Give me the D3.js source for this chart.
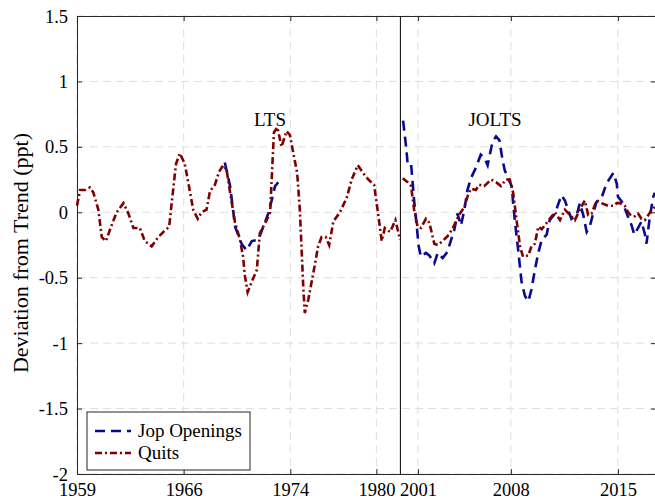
<!DOCTYPE html>
<html>
<head>
<meta charset="utf-8">
<script src="https://d3js.org/d3.v7.min.js"></script>
<style>
  body { margin: 0; background: #fff; }
  text { font-family: "Liberation Serif", "DejaVu Serif", serif; fill: #000; }
</style>
</head>
<body>
<div id="chart"></div>
<script>
// x is an observation index (quarters), y is deviation from trend in ppt
var ltsQuitsT = [0, 0.8, 2.1, 3.4, 4.3, 5.6, 6.5, 7.6, 8.7, 10.4, 12.2, 13.5, 14.8, 16.5, 17.8, 19.6, 21.3, 22.7, 24.2, 25.3, 26.0, 27.0, 28.3, 29.7, 30.5, 31.7, 32.7, 34.0, 34.9, 36.2, 37.3, 38.4, 39.3, 40.2, 41.5, 42.8, 43.6, 44.1, 44.8, 45.9, 47.2, 48.0, 48.7, 49.8, 50.7, 51.7, 52.6, 53.7, 55.0, 55.9, 57.0, 57.8, 58.5, 59.4, 59.8, 60.7, 62.0, 63.3, 64.2, 65.3, 66.2, 67.3, 69.0, 70.8, 72.1, 73.7, 75.1, 76.5, 78.0, 78.9, 80.0, 80.8, 82.2, 83.6, 84.8];
var ltsQuitsV = [0.05, 0.17, 0.17, 0.19, 0.15, 0.02, -0.19, -0.22, -0.13, 0.0, 0.07, -0.01, -0.12, -0.12, -0.22, -0.26, -0.19, -0.15, -0.11, 0.19, 0.37, 0.45, 0.37, 0.15, 0.02, -0.05, 0.0, 0.02, 0.16, 0.21, 0.31, 0.36, 0.32, 0.15, -0.08, -0.21, -0.34, -0.49, -0.61, -0.53, -0.44, -0.16, -0.12, -0.06, 0.0, 0.61, 0.65, 0.5, 0.62, 0.59, 0.42, 0.30, 0.02, -0.57, -0.77, -0.67, -0.47, -0.26, -0.19, -0.19, -0.25, -0.07, 0.0, 0.11, 0.25, 0.36, 0.30, 0.25, 0.21, 0.02, -0.22, -0.12, -0.15, -0.06, -0.21];

var ltsOpenT = [38.8, 40.2, 41.5, 43.2, 44.5, 45.9, 47.6, 48.9, 50.2, 51.1, 52.0, 53.7];
var ltsOpenV = [0.38, 0.2, -0.11, -0.24, -0.29, -0.22, -0.21, -0.11, -0.01, 0.09, 0.2, 0.26];

var joltsQuitsT = [85.5, 86.8, 87.7, 88.5, 89.4, 90.3, 91.6, 92.5, 93.8, 94.7, 96.0, 97.7, 99.0, 100.3, 101.7, 102.5, 103.4, 104.7, 105.6, 106.9, 108.7, 110.0, 111.3, 112.6, 113.6, 114.5, 115.4, 116.3, 117.1, 118.5, 119.3, 120.2, 121.1, 122.0, 122.8, 124.1, 125.5, 126.8, 128.1, 129.4, 130.7, 132.0, 133.3, 134.2, 135.1, 136.4, 137.7, 139.4, 140.8, 141.7, 142.5, 143.8, 144.7, 145.6, 146.5, 147.3, 148.2, 149.1, 150.0, 150.9, 151.7];
var joltsQuitsV = [0.26, 0.23, 0.2, 0.02, -0.11, -0.12, -0.05, -0.08, -0.24, -0.25, -0.22, -0.17, -0.10, -0.02, 0.04, 0.12, 0.18, 0.17, 0.21, 0.2, 0.25, 0.23, 0.2, 0.25, 0.25, 0.15, -0.06, -0.26, -0.34, -0.33, -0.26, -0.24, -0.11, -0.13, -0.10, -0.05, 0.0, -0.06, 0.02, -0.02, -0.06, 0.02, 0.09, -0.02, -0.01, 0.09, 0.07, 0.05, 0.05, 0.07, 0.07, 0.05, 0.0, -0.03, -0.03, -0.01, -0.05, -0.06, -0.02, 0.02, 0.04];

var joltsOpenT = [85.6, 86.4, 86.8, 87.7, 88.5, 89.2, 89.7, 90.3, 91.6, 92.5, 93.8, 94.7, 96.0, 97.3, 98.2, 99.0, 99.9, 100.8, 101.7, 102.5, 103.4, 104.7, 106.0, 106.9, 107.8, 109.1, 110.0, 110.9, 111.7, 112.3, 113.2, 114.1, 115.0, 115.9, 116.7, 117.6, 118.5, 119.3, 120.2, 121.1, 122.0, 123.3, 124.1, 125.5, 126.3, 127.2, 128.1, 128.9, 129.8, 131.2, 132.0, 132.9, 133.8, 134.6, 135.5, 136.4, 137.7, 139.0, 140.8, 141.7, 142.0, 143.3, 144.6, 145.6, 146.3, 147.3, 148.2, 149.1, 149.5, 150.4, 151.3, 151.7];
var joltsOpenV = [0.70, 0.5, 0.37, 0.37, 0.09, -0.11, -0.26, -0.34, -0.31, -0.33, -0.39, -0.31, -0.35, -0.30, -0.21, -0.14, -0.01, -0.10, 0.02, 0.17, 0.26, 0.34, 0.44, 0.42, 0.36, 0.54, 0.58, 0.55, 0.40, 0.32, 0.26, 0.2, -0.08, -0.31, -0.53, -0.64, -0.68, -0.59, -0.44, -0.31, -0.21, -0.17, -0.06, -0.01, 0.06, 0.13, 0.09, 0.02, -0.05, -0.02, 0.07, -0.02, -0.15, -0.11, -0.01, 0.08, 0.11, 0.22, 0.30, 0.22, 0.12, 0.07, -0.03, -0.10, -0.17, -0.12, -0.07, -0.17, -0.24, -0.03, 0.12, 0.15];

var xTickPos = [0, 28, 56, 78.6, 89.5, 113.9, 142];
var xTickLabels = ["1959", "1966", "1974", "1980", "2001", "2008", "2015"];
var yTicks = [-2, -1.5, -1, -0.5, 0, 0.5, 1, 1.5];
var breakPos = 84.9;

var margin = {top: 16, right: 0, bottom: 27, left: 77},
    width = 579,
    height = 458;

var svg = d3.select("#chart")
  .append("svg")
    .attr("width", 655)
    .attr("height", 501)
  .append("g")
    .attr("transform", "translate(" + margin.left + "," + margin.top + ")");

var x = d3.scaleLinear().domain([0, 152]).range([0, width]);
var y = d3.scaleLinear().domain([-2, 1.5]).range([height, 0]);

// dashed grid
svg.append("g").selectAll("line")
  .data(xTickPos)
  .enter().append("line")
    .attr("x1", function(d) { return x(d); })
    .attr("x2", function(d) { return x(d); })
    .attr("y1", 0).attr("y2", height)
    .attr("stroke", "#dedede").attr("stroke-width", 1)
    .attr("stroke-dasharray", "8,5");
svg.append("g").selectAll("line")
  .data(yTicks)
  .enter().append("line")
    .attr("x1", 0).attr("x2", width)
    .attr("y1", function(d) { return y(d); })
    .attr("y2", function(d) { return y(d); })
    .attr("stroke", "#dedede").attr("stroke-width", 1)
    .attr("stroke-dasharray", "8,5");

// axes, ticks pointing in
var xAxis = svg.append("g")
  .attr("transform", "translate(0," + height + ")")
  .call(d3.axisBottom(x).tickValues(xTickPos).tickSize(-5).tickPadding(10)
    .tickFormat(function(d, i) { return xTickLabels[i]; }));
var yAxis = svg.append("g")
  .call(d3.axisLeft(y).tickValues(yTicks).tickSize(-5).tickPadding(9)
    .tickFormat(function(d) { return String(d); }));
svg.append("g")
  .call(d3.axisTop(x).tickValues(xTickPos).tickSize(-5).tickFormat(""));
svg.append("g")
  .attr("transform", "translate(" + width + ",0)")
  .call(d3.axisRight(y).tickValues(yTicks).tickSize(-5).tickFormat(""));

svg.selectAll(".domain").attr("stroke", "#262626");
svg.selectAll(".tick line").attr("stroke", "#262626");
svg.selectAll(".tick text")
  .style("font-family", "'Liberation Serif', serif")
  .style("font-size", "18.5px")
  .attr("fill", "#000");
yAxis.selectAll(".tick text").attr("dy", "0.33em");
xAxis.selectAll(".tick text").attr("dy", "0.64em");

// break line between the two surveys
svg.append("line")
  .attr("x1", x(breakPos)).attr("x2", x(breakPos))
  .attr("y1", 0).attr("y2", height)
  .attr("stroke", "#000").attr("stroke-width", 1);

var line = d3.line()
  .x(function(d) { return x(d[0]); })
  .y(function(d) { return y(d[1]); });

function pairs(t, v) { return t.map(function(d, i) { return [d, v[i]]; }); }

var blue = "#0a0a8f", red = "#800000";

[[ltsOpenT, ltsOpenV], [joltsOpenT, joltsOpenV]].forEach(function(s) {
  svg.append("path")
    .datum(pairs(s[0], s[1]))
    .attr("d", line)
    .attr("fill", "none")
    .attr("stroke", blue)
    .attr("stroke-width", 2.6)
    .attr("stroke-dasharray", "10,6");
});
[[ltsQuitsT, ltsQuitsV], [joltsQuitsT, joltsQuitsV]].forEach(function(s) {
  svg.append("path")
    .datum(pairs(s[0], s[1]))
    .attr("d", line)
    .attr("fill", "none")
    .attr("stroke", red)
    .attr("stroke-width", 2.6)
    .attr("stroke-dasharray", "7,3,2,3");
});

// survey labels
svg.append("text")
  .attr("x", 193).attr("y", 110)
  .attr("text-anchor", "middle")
  .style("font-size", "19px")
  .text("LTS");
svg.append("text")
  .attr("x", 418).attr("y", 110)
  .attr("text-anchor", "middle")
  .style("font-size", "19px")
  .text("JOLTS");

// y label
svg.append("text")
  .attr("transform", "rotate(-90)")
  .attr("x", -height / 2 - 8)
  .attr("y", -margin.left + 28)
  .attr("text-anchor", "middle")
  .style("font-size", "22px")
  .text("Deviation from Trend (ppt)");

// legend
var leg = svg.append("g").attr("transform", "translate(10,396)");
leg.append("rect")
  .attr("width", 163).attr("height", 58)
  .attr("fill", "#fff").attr("stroke", "#262626").attr("stroke-width", 1);
leg.append("line")
  .attr("x1", 8).attr("x2", 44).attr("y1", 19).attr("y2", 19)
  .attr("stroke", blue).attr("stroke-width", 2.6).attr("stroke-dasharray", "10,6");
leg.append("line")
  .attr("x1", 8).attr("x2", 44).attr("y1", 41).attr("y2", 41)
  .attr("stroke", red).attr("stroke-width", 2.6).attr("stroke-dasharray", "7,3,2,3");
leg.append("text").attr("x", 51).attr("y", 25).style("font-size", "19px").text("Jop Openings");
leg.append("text").attr("x", 51).attr("y", 47).style("font-size", "19px").text("Quits");
</script>
</body>
</html>
